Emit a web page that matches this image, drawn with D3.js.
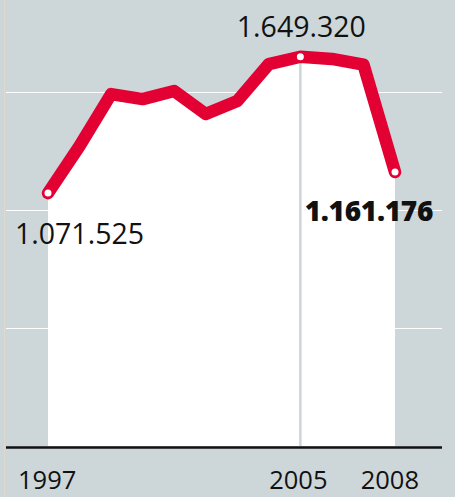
<!DOCTYPE html>
<html>
<head>
<meta charset="utf-8">
<script src="https://cdn.jsdelivr.net/npm/d3@7"></script>
<style>
  body { margin: 0; background: #fff; }
  svg { display: block; }
  text { font-family: "Open Sans", "Noto Sans", sans-serif; fill: #111; }
</style>
</head>
<body>
<div id="chart"></div>
<script>
const years = [1997, 1998, 1999, 2000, 2001, 2002, 2003, 2004, 2005, 2006, 2007, 2008];
const values = [1071525, 1271000, 1491000, 1470000, 1504000, 1407000, 1462000, 1618000, 1649320, 1640000, 1616000, 1161176];
const gridValues = [500000, 1000000, 1500000];
const yearLabels = [1997, 2005, 2008];

function fmt(v) {
  return d3.format(',')(v).replace(/,/g, '.');
}

function main() {
  const width = 458, height = 497;

  const x = d3.scaleLinear()
    .domain([1997, 2008])
    .range([48, 395]);

  const y = d3.scaleLinear()
    .domain([0, 1500000])
    .range([446, 92]);

  const svg = d3.select('#chart').append('svg')
    .attr('width', width)
    .attr('height', height);

  // background
  svg.append('rect')
    .attr('x', 0).attr('y', 0)
    .attr('width', 455).attr('height', height)
    .attr('fill', '#cdd6d9');
  svg.append('line')
    .attr('x1', 4.5).attr('x2', 4.5)
    .attr('y1', 0).attr('y2', height)
    .attr('stroke', '#ddd8d2')
    .attr('stroke-width', 1);

  // gridlines
  svg.selectAll('.grid').data(gridValues)
    .join('line')
    .attr('class', 'grid')
    .attr('x1', 6).attr('x2', 442)
    .attr('y1', (d) => Math.round(y(d)) + 0.5)
    .attr('y2', (d) => Math.round(y(d)) + 0.5)
    .attr('stroke', '#fff')
    .attr('stroke-width', 1);

  const data = years.map((yr, i) => ({ year: yr, value: values[i] }));

  // white area under the line
  const area = d3.area()
    .x((d) => x(d.year))
    .y0(y(0))
    .y1((d) => y(d.value));

  svg.append('path')
    .datum(data)
    .attr('d', area)
    .attr('fill', '#fff');

  // vertical marker at the peak
  const peak = data[years.indexOf(2005)];
  svg.append('line')
    .attr('x1', x(peak.year)).attr('x2', x(peak.year))
    .attr('y1', y(peak.value)).attr('y2', y(0))
    .attr('stroke', '#cdd6d9')
    .attr('stroke-width', 2.5);

  // baseline
  svg.append('line')
    .attr('x1', 6).attr('x2', 442)
    .attr('y1', y(0) + 1.5).attr('y2', y(0) + 1.5)
    .attr('stroke', '#111')
    .attr('stroke-width', 2.5);

  // red line
  const line = d3.line()
    .x((d) => x(d.year))
    .y((d) => y(d.value));

  svg.append('path')
    .datum(data)
    .attr('d', line)
    .attr('fill', 'none')
    .attr('stroke', '#e30032')
    .attr('stroke-width', 12.5)
    .attr('stroke-linejoin', 'round')
    .attr('stroke-linecap', 'round');

  // white dots
  const marked = [data[0], peak, data[data.length - 1]];
  svg.selectAll('.dot').data(marked)
    .join('circle')
    .attr('class', 'dot')
    .attr('cx', (d) => x(d.year))
    .attr('cy', (d) => y(d.value))
    .attr('r', 3.5)
    .attr('fill', '#fff');

  // value labels
  svg.append('text')
    .attr('x', x(peak.year) + 1)
    .attr('y', 37)
    .attr('text-anchor', 'middle')
    .style('font-size', '28.5px')
    .text(fmt(peak.value));

  svg.append('text')
    .attr('x', 15)
    .attr('y', 244)
    .style('font-size', '28.5px')
    .text(fmt(data[0].value));

  svg.append('text')
    .attr('x', 433)
    .attr('y', 221)
    .attr('text-anchor', 'end')
    .style('font-size', '28px')
    .style('font-weight', '800')
    .style('letter-spacing', '-0.3px')
    .text(fmt(data[data.length - 1].value));

  // year labels
  svg.selectAll('.year').data(yearLabels)
    .join('text')
    .attr('class', 'year')
    .attr('x', (d) => d === 1997 ? 18 : d === 2008 ? 419 : x(d) - 2)
    .attr('y', 489)
    .attr('text-anchor', (d) => d === 1997 ? 'start' : d === 2008 ? 'end' : 'middle')
    .style('font-size', '25.5px')
    .text((d) => d);
}

main();
</script>
</body>
</html>
